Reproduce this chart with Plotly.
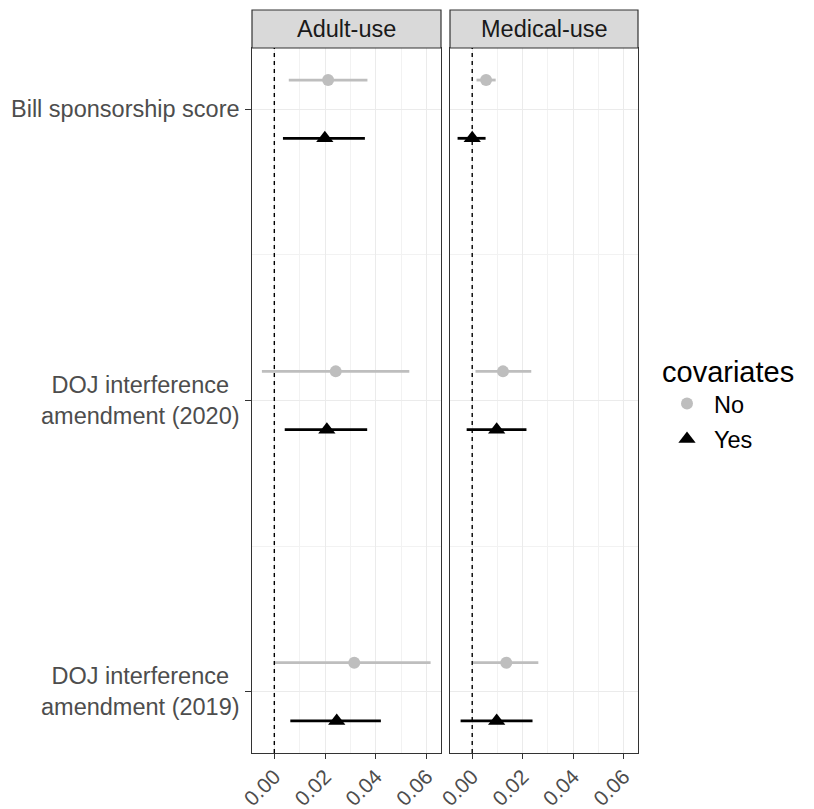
import plotly.graph_objects as go

# ---- data ----
categories = ["DOJ interference<br>amendment (2019)",
              "DOJ interference<br>amendment (2020)",
              "Bill sponsorship score"]
panels = ["Adult-use", "Medical-use"]
levels = ["No", "Yes"]

# estimates [panel][level] per category (order as in categories)
est = {
    ("Adult-use", "No"):   [0.0315, 0.0242, 0.0212],
    ("Adult-use", "Yes"):  [0.0246, 0.0207, 0.0199],
    ("Medical-use", "No"): [0.0135, 0.0122, 0.0055],
    ("Medical-use", "Yes"): [0.0097, 0.0097, 0.0000],
}
lower = {
    ("Adult-use", "No"):   [0.0000, -0.0049, 0.0057],
    ("Adult-use", "Yes"):  [0.0063, 0.0041, 0.0034],
    ("Medical-use", "No"): [0.0002, 0.0013, 0.0017],
    ("Medical-use", "Yes"): [-0.0046, -0.0022, -0.0058],
}
upper = {
    ("Adult-use", "No"):   [0.0616, 0.0532, 0.0367],
    ("Adult-use", "Yes"):  [0.0420, 0.0366, 0.0357],
    ("Medical-use", "No"): [0.0262, 0.0234, 0.0093],
    ("Medical-use", "Yes"): [0.0239, 0.0215, 0.0053],
}
x_ticks = [0.0, 0.02, 0.04, 0.06]
x_ticklabels = ["0.00", "0.02", "0.04", "0.06"]

# ---- styling ----
W, H = 814, 809
colors = {"No": "#BEBEBE", "Yes": "#000000"}
symbols = {"No": "circle", "Yes": "triangle-up"}
msize = {"No": 12, "Yes": 15}
dodge = {"No": 0.1, "Yes": -0.1}
FONT = "Liberation Sans, Arial, sans-serif"
TXT = 23.5

px_x = lambda p: p / W
px_y = lambda p: 1 - p / H
panel_dom = [[px_x(252), px_x(441)], [px_x(450), px_x(638)]]
y_dom = [px_y(753), px_y(48)]
strip_top, strip_bot = px_y(10), px_y(48)

fig = go.Figure()
for pi, panel in enumerate(panels):
    xa = "x" if pi == 0 else "x2"
    ya = "y" if pi == 0 else "y2"
    for lv in levels:
        e = est[(panel, lv)]
        lo = lower[(panel, lv)]
        hi = upper[(panel, lv)]
        ys = [i + 1 + dodge[lv] for i in range(len(categories))]
        fig.add_trace(go.Scatter(
            x=e, y=ys, mode="markers", name=lv, legendgroup=lv,
            showlegend=(pi == 0), xaxis=xa, yaxis=ya,
            marker=dict(color=colors[lv], symbol=symbols[lv], size=msize[lv],
                        line=dict(width=0)),
            error_x=dict(type="data", symmetric=False,
                         array=[h - v for h, v in zip(hi, e)],
                         arrayminus=[v - l for v, l in zip(e, lo)],
                         color=colors[lv], thickness=2.8, width=0),
        ))

axis_common = dict(
    range=[-0.0088, 0.0657], tickvals=x_ticks, ticktext=x_ticklabels,
    tickangle=-45, ticks="outside", ticklen=5, tickcolor="#333333",
    tickfont=dict(size=21, color="#4D4D4D", family=FONT),
    ticklabelstandoff=-3,
    showgrid=True, gridcolor="#EBEBEB", gridwidth=1.1,
    minor=dict(dtick=0.01, tick0=0, showgrid=True, gridcolor="#F2F2F2", gridwidth=0.6),
    showline=True, linecolor="#333333", linewidth=1.2, mirror=True,
    zeroline=False, automargin=False,
)
yaxis_common = dict(
    domain=y_dom, range=[0.79, 3.21], tickvals=[1, 2, 3],
    ticks="outside", ticklen=6, tickcolor="#333333", showticklabels=False,
    showgrid=True, gridcolor="#EBEBEB", gridwidth=1.1,
    minor=dict(tickvals=[1.5, 2.5], showgrid=True, gridcolor="#F2F2F2", gridwidth=0.6),
    showline=True, linecolor="#333333", linewidth=1.2, mirror=True,
    zeroline=False, automargin=False,
)

fig.update_layout(
    width=W, height=H, margin=dict(l=0, r=0, t=0, b=0, autoexpand=False),
    paper_bgcolor="white", plot_bgcolor="white",
    font=dict(family=FONT, color="#1A1A1A"),
    xaxis={**axis_common, "domain": panel_dom[0], "anchor": "y"},
    xaxis2={**axis_common, "domain": panel_dom[1], "anchor": "y2", "matches": "x"},
    yaxis={**yaxis_common, "anchor": "x"},
    yaxis2={**yaxis_common, "anchor": "x2", "matches": "y", "ticks": ""},
    legend=dict(x=px_x(660), y=px_y(344), xanchor="left", yanchor="top",
                title=dict(text="covariates", font=dict(size=29, color="#000000")),
                font=dict(size=TXT, color="#000000"), itemwidth=44,
                traceorder="grouped", tracegroupgap=2,
                bgcolor="rgba(0,0,0,0)"),
    showlegend=True,
)

shapes = []
annotations = []
for pi, panel in enumerate(panels):
    xa = "x" if pi == 0 else "x2"
    ya = "y" if pi == 0 else "y2"
    d = panel_dom[pi]
    shapes.append(dict(type="rect", xref="paper", yref="paper",
                       x0=d[0], x1=d[1], y0=strip_bot, y1=strip_top,
                       fillcolor="#D9D9D9", line=dict(color="#333333", width=1.2),
                       layer="above"))
    shapes.append(dict(type="line", xref=xa, yref=f"{ya} domain",
                       x0=0, x1=0, y0=0, y1=1,
                       line=dict(color="black", width=1.4, dash="4px,4px"), layer="above"))
    annotations.append(dict(text=panel, xref="paper", yref="paper",
                            x=(d[0] + d[1]) / 2, y=(strip_top + strip_bot) / 2,
                            showarrow=False, xanchor="center", yanchor="middle",
                            font=dict(size=TXT, color="#1A1A1A", family=FONT)))

for i, cat in enumerate(categories):
    annotations.append(dict(text=cat, xref="paper", yref="y",
                            x=px_x(242), y=i + 1, xanchor="right", yanchor="middle",
                            align="center", showarrow=False,
                            font=dict(size=TXT, color="#4D4D4D", family=FONT)))

fig.update_layout(shapes=shapes, annotations=annotations)
fig.write_html("out.html")
